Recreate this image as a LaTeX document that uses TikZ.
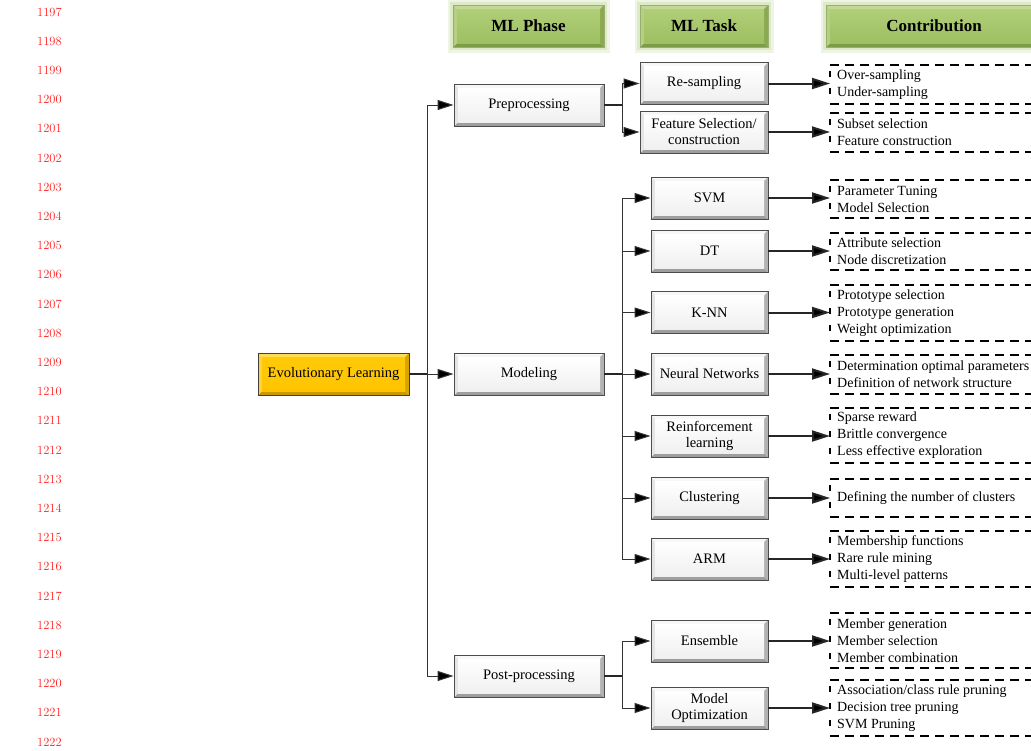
\documentclass[tikz,border=0pt]{standalone}
\usepackage{fontspec}
\newfontfamily\tnr{Liberation Serif}
\usetikzlibrary{arrows.meta,calc}
\definecolor{numred}{HTML}{FF2020}
\definecolor{glowA}{HTML}{EFF5E4}
\definecolor{glowB}{HTML}{DDE9C8}
\definecolor{gT}{HTML}{C3DA96}
\definecolor{gL}{HTML}{B6D083}
\definecolor{gB}{HTML}{7E9C47}
\definecolor{gR}{HTML}{8AA952}
\definecolor{gC1}{HTML}{B0CE78}
\definecolor{gC2}{HTML}{9EBF62}
\definecolor{yT}{HTML}{FFDA55}
\definecolor{yL}{HTML}{FFD23A}
\definecolor{yB}{HTML}{CC9800}
\definecolor{yR}{HTML}{D9A400}
\definecolor{yC1}{HTML}{FFCA08}
\definecolor{yC2}{HTML}{FFC400}
\newcommand{\bevelpaint}[6]{%
  \coordinate (SW) at (path picture bounding box.south west);
  \coordinate (NE) at (path picture bounding box.north east);
  \coordinate (NW) at (SW|-NE);
  \coordinate (SE) at (NE|-SW);
  \fill[#1] (NW) -- (NE) -- ($(NE)+(-4pt,-4pt)$) -- ($(NW)+(4pt,-4pt)$) -- cycle;
  \fill[#3] (SW) -- (SE) -- ($(SE)+(-4pt,4pt)$) -- ($(SW)+(4pt,4pt)$) -- cycle;
  \fill[#2] (SW) -- (NW) -- ($(NW)+(4pt,-4pt)$) -- ($(SW)+(4pt,4pt)$) -- cycle;
  \fill[#4] (SE) -- (NE) -- ($(NE)+(-4pt,-4pt)$) -- ($(SE)+(-4pt,4pt)$) -- cycle;
  \shade[top color=#5, bottom color=#6] ($(SW)+(4pt,4pt)$) rectangle ($(NE)+(-4pt,-4pt)$);
}
\newcommand{\contrib}[4]{%
  \node[ctext] (#1) at (837,#2) {#4};
  \coordinate (#1l) at (830,#2);
  \draw[dashh] (830,#2-#3) -- (1045,#2-#3);
  \draw[dashh] (830,#2+#3) -- (1045,#2+#3);
  \draw[dashv] (830,#2-#3+6) -- (830,#2+#3-3);
}
\tikzset{
  lnum/.style={text=numred, font=\fontsize{12.5}{13}\selectfont, anchor=west, inner sep=0pt},
  wbox/.style={draw=black!70, line width=0.9pt, minimum height=42pt, inner sep=2pt, align=center,
    font=\tnr\fontsize{14.5}{16}\selectfont,
    path picture={\bevelpaint{white!97!black}{white!90!black}{white!62!black}{white!70!black}{white}{white!94!black}}},
  phase/.style={wbox, minimum width=150pt},
  task/.style={wbox, minimum width=117pt},
  taskw/.style={wbox, minimum width=128pt},
  gold/.style={draw=black!75, line width=0.9pt, minimum height=42pt, minimum width=151pt, inner sep=2pt,
    font=\tnr\fontsize{14.5}{16}\selectfont,
    path picture={\bevelpaint{yT}{yL}{yB}{yR}{yC1}{yC2}}},
  hdr/.style={draw=gB!80, line width=0.5pt, minimum height=42pt, inner sep=2pt,
    font=\tnr\bfseries\fontsize{17}{18}\selectfont,
    preaction={draw=glowA, line width=11pt},
    preaction={draw=glowB, line width=6pt},
    path picture={\bevelpaint{gT}{gL}{gB}{gR}{gC1}{gC2}}},
  conn/.style={draw=black!80, line width=1pt},
  arr/.style={conn, -{Triangle[length=16pt,width=10pt,fill=black]}},
  heavy/.style={draw=black!85, line width=2pt},
  bigarr/.style={heavy, -{Triangle[length=18pt,width=11pt,fill=black]}},
  ctext/.style={anchor=west, inner sep=0pt, align=left, font=\tnr\fontsize{14}{17}\selectfont},
  dashh/.style={draw=black, line width=1.4pt, dash pattern=on 9pt off 6pt},
  dashv/.style={draw=black, line width=1.2pt, dash pattern=on 6pt off 11pt},
}
\begin{document}
\begin{tikzpicture}[x=1pt,y=-1pt]
\useasboundingbox (0,0) rectangle (1031,750);
\fill[white] (0,0) rectangle (1031,750);
% line numbers
\foreach \i in {0,...,25}{
  \pgfmathtruncatemacro\n{1197+\i}
  \node[lnum] (ln\i) at (37,{12+29.2*\i}) {\n};
}
% headers
\node[hdr, minimum width=151pt] (h1) at (528.5,26) {ML Phase};
\node[hdr, minimum width=128pt] (h2) at (704,26) {ML Task};
\node[hdr, minimum width=216pt] (h3) at (934,26) {Contribution};
% main nodes
\node[gold] (evol) at (333.5,374) {Evolutionary Learning};
\node[phase] (pre) at (529,105) {Preprocessing};
\node[phase] (mod) at (529,374) {Modeling};
\node[phase] (post) at (529,676) {Post-processing};
% tasks
\node[taskw] (rs) at (704,83.5) {Re-sampling};
\node[taskw] (fs) at (704,132) {Feature Selection/\\construction};
\node[task] (svm) at (709.5,198) {SVM};
\node[task] (dt) at (709.5,251) {DT};
\node[task] (knn) at (709.5,312.5) {K-NN};
\node[task] (nn) at (709.5,374) {Neural Networks};
\node[task] (rl) at (709.5,436) {Reinforcement\\learning};
\node[task] (cl) at (709.5,498) {Clustering};
\node[task] (arm) at (709.5,559) {ARM};
\node[task] (ens) at (709.5,641) {Ensemble};
\node[task] (mo) at (709.5,708) {Model\\Optimization};
% trunk
\coordinate (t) at (427,374);
\draw[heavy] (evol.east) -- (t);
\draw[arr] (t) -- (mod.west);
\draw[arr] (t) |- (pre.west);
\draw[arr] (t) |- (post.west);
% branch points
\coordinate (b1) at (622,105);
\coordinate (b2) at (622,374);
\coordinate (b3) at (622,676);
\draw[heavy] (pre.east) -- (b1);
\draw[heavy] (mod.east) -- (b2);
\draw[heavy] (post.east) -- (b3);
\draw[arr] (b1) |- (rs.west);
\draw[arr] (b1) |- (fs.west);
\foreach \k in {svm,dt,knn,nn,rl,cl,arm}{\draw[arr] (b2) |- (\k.west);}
\draw[arr] (b3) |- (ens.west);
\draw[arr] (b3) |- (mo.west);
% contributions
\contrib{c1}{84.5}{19.5}{Over-sampling\\Under-sampling}
\contrib{c2}{132.5}{19.5}{Subset selection\\Feature construction}
\contrib{c3}{199}{19}{Parameter Tuning\\Model Selection}
\contrib{c4}{251.5}{18.5}{Attribute selection\\Node discretization}
\contrib{c5}{313}{28}{Prototype selection\\Prototype generation\\Weight optimization}
\contrib{c6}{374.5}{19.5}{Determination optimal parameters\\Definition of network structure}
\contrib{c7}{435.5}{27.5}{Sparse reward\\Brittle convergence\\Less effective exploration}
\contrib{c8}{498}{19}{Defining the number of clusters}
\contrib{c9}{559}{28}{Membership functions\\Rare rule mining\\Multi-level patterns}
\contrib{c10}{640.5}{27.5}{Member generation\\Member selection\\Member combination}
\contrib{c11}{708}{28}{Association/class rule pruning\\Decision tree pruning\\SVM Pruning}
\draw[bigarr] (rs.east) -- (rs.east -| c1l);
\draw[bigarr] (fs.east) -- (fs.east -| c2l);
\draw[bigarr] (svm.east) -- (svm.east -| c3l);
\draw[bigarr] (dt.east) -- (dt.east -| c4l);
\draw[bigarr] (knn.east) -- (knn.east -| c5l);
\draw[bigarr] (nn.east) -- (nn.east -| c6l);
\draw[bigarr] (rl.east) -- (rl.east -| c7l);
\draw[bigarr] (cl.east) -- (cl.east -| c8l);
\draw[bigarr] (arm.east) -- (arm.east -| c9l);
\draw[bigarr] (ens.east) -- (ens.east -| c10l);
\draw[bigarr] (mo.east) -- (mo.east -| c11l);
\end{tikzpicture}
\end{document}
